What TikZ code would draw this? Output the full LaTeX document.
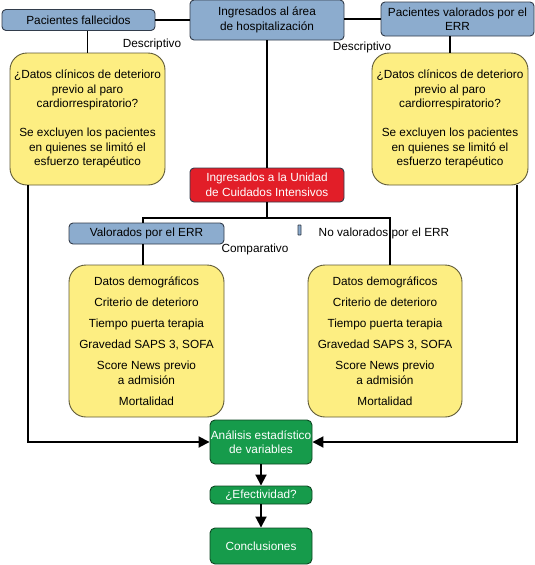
\documentclass[tikz,border=0pt]{standalone}
\usepackage{fontspec}
\setmainfont{Liberation Sans}
\usetikzlibrary{arrows.meta,calc}
\definecolor{boxblue}{RGB}{140,172,206}
\definecolor{blueedge}{RGB}{50,60,75}
\definecolor{boxyellow}{RGB}{253,238,130}
\definecolor{yellowedge}{RGB}{95,90,55}
\definecolor{boxred}{RGB}{226,30,40}
\definecolor{boxgreen}{RGB}{22,155,75}
\definecolor{greenedge}{RGB}{15,70,35}
\tikzset{
  x=1pt, y=-1pt,
  every node/.style={font=\fontsize{11.8}{14.5}\selectfont, inner sep=0pt, align=center},
  bluebox/.style={draw=blueedge, fill=boxblue, line width=0.9pt, rounded corners=4pt},
  yellowbox/.style={draw=yellowedge, fill=boxyellow, line width=0.9pt, rounded corners=17pt},
  redbox/.style={draw=blueedge, fill=boxred, text=white, line width=0.9pt, rounded corners=4pt},
  greenbox/.style={draw=greenedge, fill=boxgreen, text=white, line width=0.9pt, rounded corners=5pt},
  conn/.style={line width=1.9pt, black},
  arr/.style={conn, -{Triangle[length=11pt,width=11pt]}},
  lbl/.style={}
}
\begin{document}
\begin{tikzpicture}
\useasboundingbox (0,0) rectangle (535,565);
% top row
\node[bluebox, minimum width=153pt, minimum height=21pt] (fall) at (78.5,20) {Pacientes fallecidos};
\node[bluebox, minimum width=154pt, minimum height=40pt] (ing) at (267,20) {Ingresados al área\\de hospitalización};
\node[bluebox, minimum width=153pt, minimum height=34pt] (valtop) at (457.5,19) {Pacientes valorados por el\\ERR};
% yellow descriptive boxes
\node[yellowbox, minimum width=155pt, minimum height=132pt] (y1) at (87.5,119)
  {¿Datos clínicos de deterioro\\previo al paro\\cardiorrespiratorio?\\[14.5pt]Se excluyen los pacientes\\en quienes se limitó el\\esfuerzo terapéutico};
\node[yellowbox, minimum width=156pt, minimum height=132pt] (y2) at (450,119)
  {¿Datos clínicos de deterioro\\previo al paro\\cardiorrespiratorio?\\[14.5pt]Se excluyen los pacientes\\en quienes se limitó el\\esfuerzo terapéutico};
\node[lbl] (d1) at (152,44) {Descriptivo};
\node[lbl] (d2) at (362,47) {Descriptivo};
% ICU
\node[redbox, minimum width=154pt, minimum height=34pt] (red) at (267,185) {Ingresados a la Unidad\\de Cuidados Intensivos};
\node[bluebox, minimum width=155pt, minimum height=21pt] (verr) at (146.5,233.5) {Valorados por el ERR};
\node[bluebox, minimum width=3pt, minimum height=10pt, rounded corners=0.5pt] (nverr) at (299.5,230) {};
\node[lbl] (nvlbl) at (384,233) {No valorados por el ERR};
\node[lbl] (comp) at (255,249) {Comparativo};
\node[yellowbox, minimum width=155pt, minimum height=152pt] (ny1) at (146.5,341)
  {Datos demográficos\\[6.5pt]Criterio de deterioro\\[6.5pt]Tiempo puerta terapia\\[6.5pt]Gravedad SAPS 3, SOFA\\[6.5pt]Score News previo\\a admisión\\[6.5pt]Mortalidad};
\node[yellowbox, minimum width=154pt, minimum height=152pt] (ny2) at (385,341)
  {Datos demográficos\\[6.5pt]Criterio de deterioro\\[6.5pt]Tiempo puerta terapia\\[6.5pt]Gravedad SAPS 3, SOFA\\[6.5pt]Score News previo\\a admisión\\[6.5pt]Mortalidad};
% green
\node[greenbox, minimum width=102pt, minimum height=44pt] (an) at (261,442) {Análisis estadístico\\de variables};
\node[greenbox, minimum width=102pt, minimum height=18pt] (ef) at (261,495) {¿Efectividad?};
\node[greenbox, minimum width=102pt, minimum height=36pt] (con) at (261,546) {Conclusiones};
% connectors
\draw[conn] (fall.east) -- (fall.east -| ing.west);
\draw[conn] (valtop.west -| ing.east) -- (valtop.west);
\draw[conn] (y1.north) -- (y1.north |- fall.south);
\draw[conn] (y2.north) -- (y2.north |- valtop.south);
\draw[conn] (ing.south) -- (red.north);
\coordinate (split) at (267,218);
\coordinate (lft) at (143,218);
\coordinate (rgt) at (390,218);
\draw[conn] (red.south) -- (split);
\draw[conn] (verr.north -| lft) -- (lft) -- (rgt) -- (rgt |- ny2.north);
\draw[conn] (verr.south -| lft) -- (lft |- ny1.north);
\coordinate (la) at (28,185);
\coordinate (ra) at (517,185);
\draw[arr] (la) -- (la |- an.west) -- (an.west);
\draw[arr] (ra) -- (ra |- an.east) -- (an.east);
\draw[arr] (an.south) -- (ef.north);
\draw[arr] (ef.south) -- (con.north);
\end{tikzpicture}
\end{document}
